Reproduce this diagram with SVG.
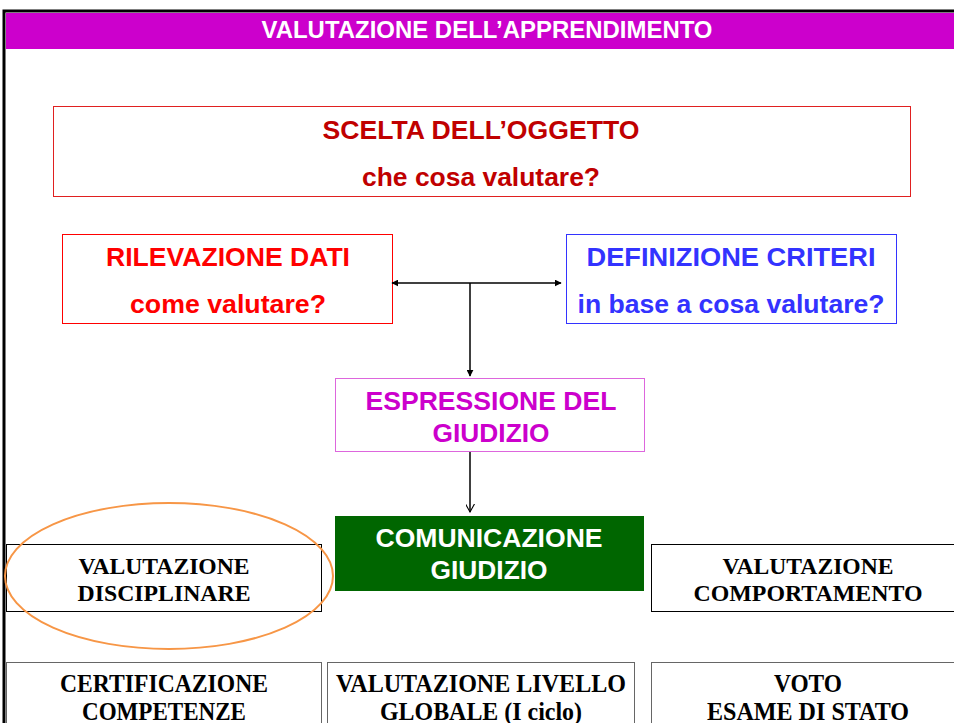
<svg xmlns="http://www.w3.org/2000/svg" width="954" height="723" viewBox="0 0 954 723">
<defs>
<style>
.sans{font-family:"Liberation Sans",Arial,sans-serif;font-weight:bold;text-anchor:middle}
.serif{font-family:"Liberation Serif","Times New Roman",serif;font-weight:bold;text-anchor:middle;font-size:24px;fill:#000}
.tall{font-size:25px}
.edge{stroke:#000;stroke-width:1.5;fill:none}
</style>
<marker id="tri" viewBox="0 0 10 10" refX="9" refY="5" markerWidth="7" markerHeight="7" orient="auto-start-reverse" markerUnits="userSpaceOnUse">
<path d="M0,0 L10,5 L0,10 z" fill="#000"/>
</marker>
<marker id="vee" viewBox="0 0 10 10" refX="9" refY="5" markerWidth="9" markerHeight="9" orient="auto" markerUnits="userSpaceOnUse">
<path d="M0,0 L9,5 L0,10" fill="none" stroke="#000" stroke-width="1.2"/>
</marker>
</defs>
<rect width="954" height="723" fill="#fff"/>
<g id="frame">
<rect x="4" y="11" width="960" height="720" fill="none" stroke="#000" stroke-width="3"/>
<rect x="6" y="13" width="948" height="36" fill="#cc00cc"/>
<text class="sans" x="487" y="38" font-size="23" fill="#fff" textLength="451" lengthAdjust="spacingAndGlyphs">VALUTAZIONE DELL’APPRENDIMENTO</text>
</g>
<g id="scelta">
<rect x="53.5" y="106.5" width="857" height="90" fill="#fff" stroke="#e02020" stroke-width="1"/>
<text class="sans" x="481" y="139" font-size="25" fill="#c00000" textLength="317" lengthAdjust="spacingAndGlyphs">SCELTA DELL’OGGETTO</text>
<text class="sans" x="481" y="186" font-size="25" fill="#c00000" textLength="238" lengthAdjust="spacingAndGlyphs">che cosa valutare?</text>
</g>
<g id="rilevazione">
<rect x="62.5" y="234.5" width="330" height="89" fill="#fff" stroke="#ff0000" stroke-width="1"/>
<text class="sans" x="228" y="266" font-size="25" fill="#ff0000" textLength="244" lengthAdjust="spacingAndGlyphs">RILEVAZIONE DATI</text>
<text class="sans" x="228" y="313" font-size="25" fill="#ff0000" textLength="196" lengthAdjust="spacingAndGlyphs">come valutare?</text>
</g>
<g id="definizione">
<rect x="566.5" y="234.5" width="330" height="89" fill="#fff" stroke="#3333ff" stroke-width="1"/>
<text class="sans" x="731" y="266" font-size="25" fill="#3333ff" textLength="289" lengthAdjust="spacingAndGlyphs">DEFINIZIONE  CRITERI</text>
<text class="sans" x="731" y="313" font-size="25" fill="#3333ff" textLength="307" lengthAdjust="spacingAndGlyphs">in base a cosa valutare?</text>
</g>
<g id="espressione">
<rect x="335.5" y="378.5" width="309" height="73" fill="#fff" stroke="#dd66dd" stroke-width="1"/>
<text class="sans" x="491" y="410" font-size="25" fill="#cc00cc" textLength="251" lengthAdjust="spacingAndGlyphs">ESPRESSIONE DEL</text>
<text class="sans" x="491" y="442" font-size="25" fill="#cc00cc" textLength="117" lengthAdjust="spacingAndGlyphs">GIUDIZIO</text>
</g>
<g id="comunicazione">
<rect x="335" y="516" width="309" height="75" fill="#006600"/>
<text class="sans" x="489" y="547" font-size="25" fill="#fff" textLength="227" lengthAdjust="spacingAndGlyphs">COMUNICAZIONE</text>
<text class="sans" x="489" y="579" font-size="25" fill="#fff" textLength="117" lengthAdjust="spacingAndGlyphs">GIUDIZIO</text>
</g>
<g id="disciplinare">
<rect x="6.5" y="544.5" width="315" height="67" fill="none" stroke="#000" stroke-width="1"/>
<text class="serif" x="164" y="574" textLength="171" lengthAdjust="spacingAndGlyphs">VALUTAZIONE</text>
<text class="serif" x="164" y="601" textLength="173" lengthAdjust="spacingAndGlyphs">DISCIPLINARE</text>
<ellipse cx="169" cy="576" rx="164" ry="73" fill="none" stroke="#f79646" stroke-width="2"/>
</g>
<g id="comportamento">
<rect x="651.5" y="544.5" width="310" height="67" fill="none" stroke="#000" stroke-width="1"/>
<text class="serif" x="808" y="574" textLength="171" lengthAdjust="spacingAndGlyphs">VALUTAZIONE</text>
<text class="serif" x="808" y="601" textLength="229" lengthAdjust="spacingAndGlyphs">COMPORTAMENTO</text>
</g>
<g id="certificazione">
<rect x="6.5" y="662.5" width="315" height="70" fill="none" stroke="#666" stroke-width="1"/>
<text class="serif tall" x="164" y="692" textLength="208" lengthAdjust="spacingAndGlyphs">CERTIFICAZIONE</text>
<text class="serif tall" x="164" y="720" textLength="164" lengthAdjust="spacingAndGlyphs">COMPETENZE</text>
</g>
<g id="livello">
<rect x="327.5" y="662.5" width="307" height="70" fill="none" stroke="#666" stroke-width="1"/>
<text class="serif tall" x="481" y="692" textLength="290" lengthAdjust="spacingAndGlyphs">VALUTAZIONE LIVELLO</text>
<text class="serif tall" x="481" y="720" textLength="202" lengthAdjust="spacingAndGlyphs">GLOBALE (I ciclo)</text>
</g>
<g id="voto">
<rect x="651.5" y="662.5" width="310" height="70" fill="none" stroke="#666" stroke-width="1"/>
<text class="serif tall" x="808" y="692" textLength="68" lengthAdjust="spacingAndGlyphs">VOTO</text>
<text class="serif tall" x="808" y="720" textLength="202" lengthAdjust="spacingAndGlyphs">ESAME DI STATO</text>
</g>
<g id="connectors">
<line class="edge" x1="392" y1="283" x2="561" y2="283" marker-start="url(#tri)" marker-end="url(#tri)"/>
<line class="edge" x1="470" y1="283" x2="470" y2="376" stroke="#444" marker-end="url(#tri)"/>
<line class="edge" x1="470" y1="452" x2="470" y2="512" stroke-width="1.2" marker-end="url(#vee)"/>
</g>
</svg>
